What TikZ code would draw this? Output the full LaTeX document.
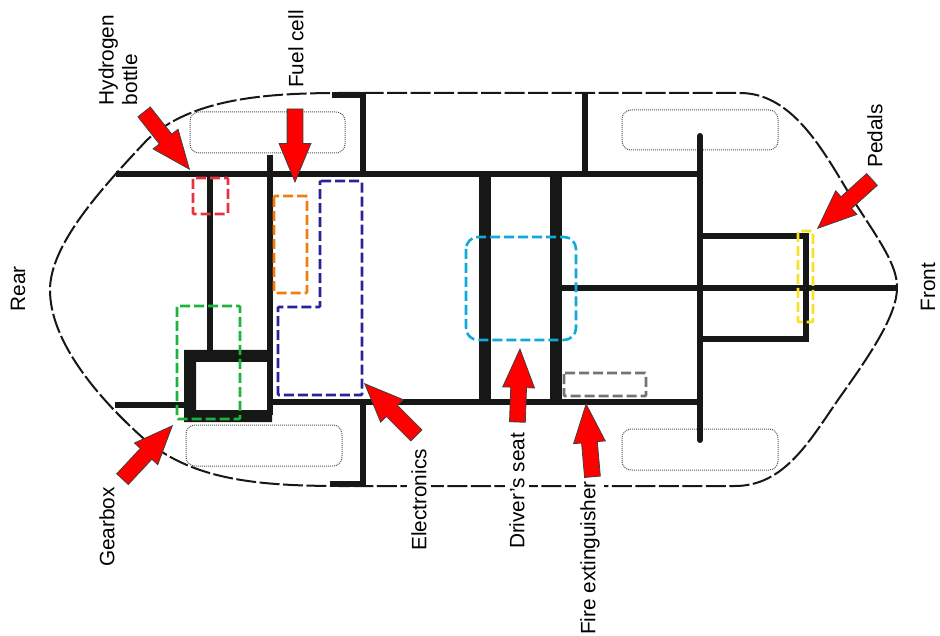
\documentclass[tikz,border=0pt]{standalone}
\usepackage{fontspec}
\setmainfont{Liberation Sans}
\usetikzlibrary{shapes.arrows}
\definecolor{chassis-black}{RGB}{22, 24, 22}
\definecolor{box-red}{RGB}{230, 50, 65}
\definecolor{box-orange}{RGB}{240, 125, 15}
\definecolor{box-navy}{RGB}{40, 35, 150}
\definecolor{box-green}{RGB}{30, 180, 60}
\definecolor{box-cyan}{RGB}{15, 170, 220}
\definecolor{box-yellow}{RGB}{248, 225, 40}
\definecolor{box-gray}{RGB}{115, 115, 115}

\begin{document}
\begin{tikzpicture}[
        x=1pt, y=-1pt,
        outline/.style={line width=2pt, color=chassis-black, dash pattern=on 20pt off 3.5pt},
        bar/.style={line width=6pt, color=chassis-black},
        widebar/.style={line width=12pt, color=chassis-black},
        wheel/.style={draw=black!65, line width=1pt, dash pattern=on 1pt off 1pt, rounded corners=9pt},
        zone/.style={line width=2.6pt, dash pattern=on 10pt off 4pt, rounded corners=1pt},
        pointer/.style={single arrow, draw=black!75, fill=red, line width=0.8pt,
                    minimum height=73pt, minimum width=31pt, inner sep=7.5pt,
                    single arrow tip angle=45, single arrow head extend=8pt,
                    anchor=tip},
        lbl/.style={rotate=90, font=\fontsize{20.8}{23.5}\selectfont, fill=white,
                    inner sep=4.5pt, align=left}
      ]
        \useasboundingbox (0,0) rectangle (940,636);
        \fill[white] (0,0) rectangle (940,636);

        % body
        \draw[outline] (340,93) -- (740,93)
              .. controls (790,93) and (820,145) .. (847,190)
              .. controls (870,228) and (898,262) .. (897,288)
              .. controls (897,315) and (870,355) .. (840,397)
              .. controls (810,440) and (785,486) .. (735,486)
              -- (340,486)
              .. controls (250,486) and (190,478) .. (143,438)
              .. controls (95,395) and (50,340) .. (50,290)
              .. controls (50,245) and (100,190) .. (147,140)
              .. controls (190,100) and (260,93) .. (340,93);

        % wheels
        \draw[wheel] (190,112) rectangle (345,153);
        \draw[wheel] (186,425) rectangle (342,466);
        \draw[wheel] (622,110) rectangle (778,150);
        \draw[wheel] (622,429) rectangle (778,470);

        % frame
        \draw[bar] (116,174) -- (700,174);
        \draw[bar] (270,402) -- (700,402);
        \draw[bar] (115,405) -- (190,405);
        \draw[bar] (270,155) -- (270,415);
        \draw[bar] (210,174) -- (210,352);
        \draw[bar] (332,95) -- (363,95) -- (363,174);
        \draw[bar] (363,405) -- (363,484) -- (330,484);
        \draw[bar] (585,93) -- (585,174);
        \draw[bar, line cap=round] (700,136) -- (700,440);
        \draw[bar] (556,288) -- (897,288);
        \draw[bar] (700,236.5) -- (806,236.5) -- (806,339) -- (700,339);
        \draw[widebar] (485,174) -- (485,402);
        \draw[widebar] (556,174) -- (556,402);
        \fill[chassis-black, even odd rule] (184,350) rectangle (272,422)
              (196,362) rectangle (267,410);

        % zones
        \draw[zone, box-red] (193,178) rectangle (228,214);
        \draw[zone, box-orange] (274,196) rectangle (307,293);
        \draw[zone, box-navy] (320,181) -- (362,181) -- (362,395) -- (278,395)
              -- (278,307) -- (320,307) -- cycle;
        \draw[zone, box-green] (177,306) rectangle (240,419);
        \draw[zone, box-cyan, rounded corners=12pt] (466,237) rectangle (576,340);
        \draw[zone, box-yellow] (798,231) rectangle (813,322);
        \draw[zone, box-gray] (564,373) rectangle (646,396);

        % labels
        \node[lbl] (rear) at (18,289) {Rear};
        \node[lbl] (front) at (928,287) {Front};
        \node[lbl] (bottle) at (118,60) {Hydrogen\\bottle};
        \node[lbl] (cell) at (296,49) {Fuel cell};
        \node[lbl] (gearbox) at (107,527) {Gearbox};
        \node[lbl] (electronics) at (419,500) {Electronics};
        \node[lbl] (seat) at (517,491) {Driver's seat};
        \node[lbl] (extinguisher) at (590,558) {Fire extinguisher};
        \node[lbl] (pedals) at (875,136) {Pedals};

        % pointers
        \node[pointer, rotate=-51.7] (p-bottle) at (190,170) {};
        \node[pointer, rotate=-90] (p-cell) at (295,183) {};
        \node[pointer, rotate=47] (p-gearbox) at (173,425) {};
        \node[pointer, rotate=135] (p-electronics) at (364,383) {};
        \node[pointer, rotate=88] (p-seat) at (520,348) {};
        \node[pointer, rotate=95] (p-extinguisher) at (586,403) {};
        \node[pointer, rotate=222] (p-pedals) at (817,229) {};
      \end{tikzpicture}
\end{document}
